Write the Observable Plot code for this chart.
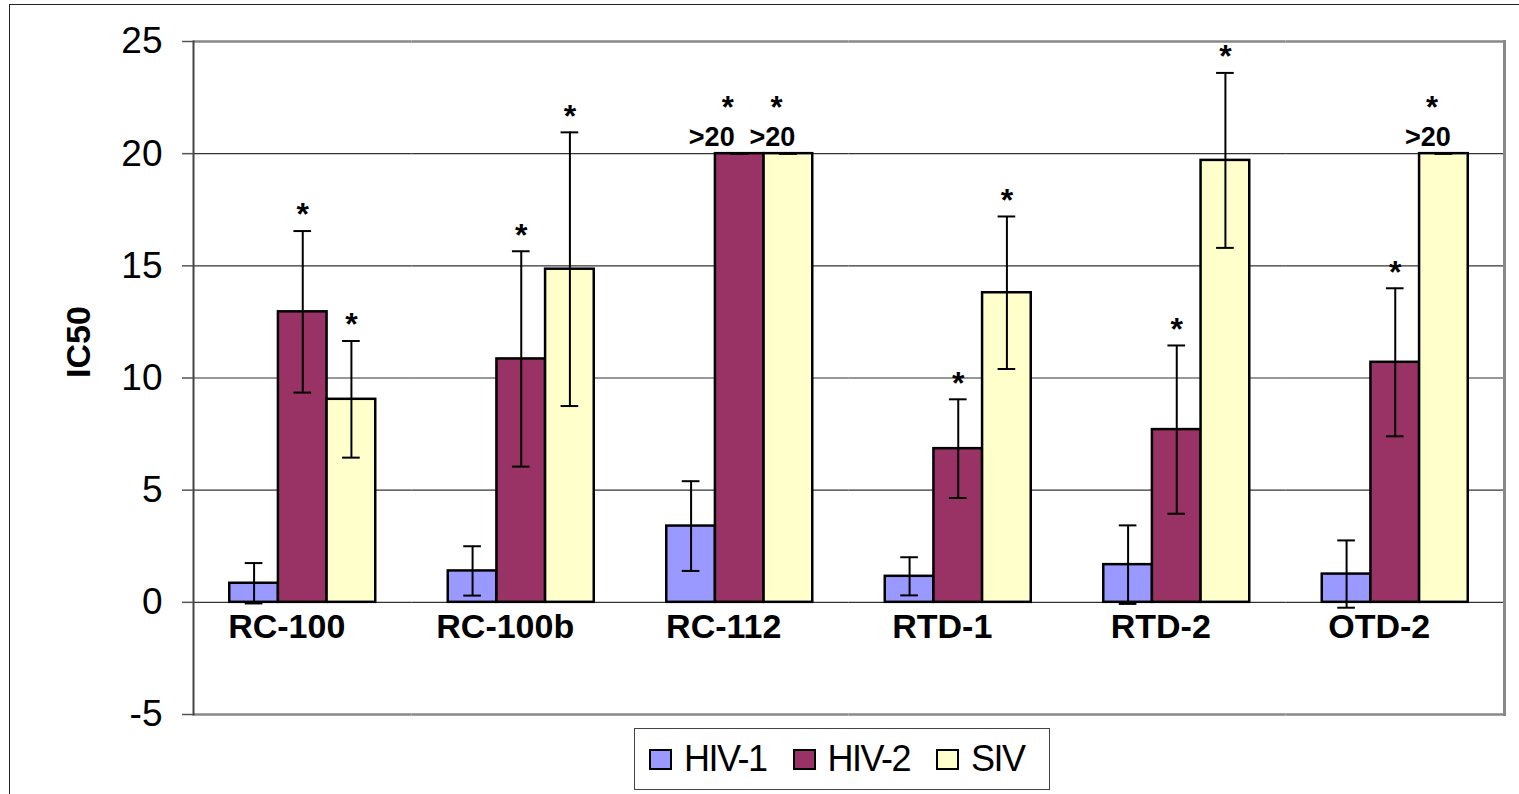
<!DOCTYPE html>
<html>
<head>
<meta charset="utf-8">
<script src="https://cdn.jsdelivr.net/npm/d3@7"></script>
<script src="https://cdn.jsdelivr.net/npm/@observablehq/plot@0.6"></script>
<style>
  html, body { margin: 0; padding: 0; background: #fff; overflow: hidden; }
  body { font-family: "Liberation Sans", Arial, sans-serif; width: 1519px; height: 794px; position: relative; }
  #outer { position: absolute; left: 9px; top: 4px; width: 1700px; height: 1000px; border-left: 1.5px solid #222; border-top: 1.5px solid #222; pointer-events: none; }
  #chart svg { display: block; }
  #legend { position: absolute; left: 634px; top: 728px; width: 414px; height: 60px; border: 1.5px solid #444; box-sizing: content-box; display: flex; align-items: center; }
  .item { display: flex; align-items: center; font-size: 36px; letter-spacing: -1.5px; color: #000; }
  .sw { width: 19px; height: 17px; border: 2px solid #000; margin-right: 12px; }
</style>
</head>
<body>
<div id="chart"></div>
<div id="legend"></div>
<div id="outer"></div>
<script>
const categories = ["RC-100", "RC-100b", "RC-112", "RTD-1", "RTD-2", "OTD-2"];
const series = ["HIV-1", "HIV-2", "SIV"];
const colors = ["#9999FF", "#993366", "#FFFFCC"];

const hiv1 = [0.85, 1.40, 3.40, 1.16, 1.68, 1.26];
const hiv1Err = [0.90, 1.10, 2.00, 0.85, 1.75, 1.50];
const hiv2 = [12.95, 10.85, 20, 6.85, 7.70, 10.70];
const hiv2Err = [3.60, 4.80, 0, 2.20, 3.75, 3.30];
const siv = [9.05, 14.85, 20, 13.80, 19.70, 20];
const sivErr = [2.60, 6.10, 0, 3.40, 3.90, 0];

const hiv1Star = [false, false, false, false, false, false];
const hiv2Star = [true, true, true, true, true, true];
const sivStar = [true, true, true, true, true, true];
const hiv2Over = [false, false, true, false, false, false];
const sivOver = [false, false, true, false, false, true];

const yTicks = [-5, 0, 5, 10, 15, 20, 25];
const gridValues = [0, 5, 10, 15, 20];
const yLabel = "IC50";
const overText = ">20";

const values = [hiv1, hiv2, siv];
const errs = [hiv1Err, hiv2Err, sivErr];
const stars = [hiv1Star, hiv2Star, sivStar];
const overs = [[false, false, false, false, false, false], hiv2Over, sivOver];

const data = [];
categories.forEach((c, i) => {
  series.forEach((s, j) => {
    const v = values[j][i], e = errs[j][i];
    data.push({category: c, series: s, value: v, lo: v - e, hi: v + e, star: stars[j][i], over: overs[j][i]});
  });
});
const starsNormal = data.filter(d => d.star && !d.over);
const starsOver = data.filter(d => d.star && d.over);
const overHiv2 = data.filter(d => d.over && d.series === "HIV-2");
const overSiv = data.filter(d => d.over && d.series === "SIV");

const font = "Liberation Sans, Arial, sans-serif";

const chart = Plot.plot({
  width: 1519,
  height: 724,
  marginLeft: 193,
  marginRight: 15,
  marginTop: 41,
  marginBottom: 10,
  style: {fontFamily: font, color: "#000", background: "#fff", overflow: "visible"},
  fx: {domain: categories, padding: 0, axis: null, round: false},
  x: {domain: series, paddingInner: 0, paddingOuter: 0.745, axis: null, round: false},
  y: {domain: [-5, 25], axis: null},
  color: {domain: series, range: colors},
  marks: [
    Plot.ruleY(gridValues, {stroke: "#333", strokeWidth: 1.2}),
    Plot.ruleY([25, -5], {stroke: "#888", strokeWidth: 2.5}),
    Plot.frame({anchor: "left", facetAnchor: "left", stroke: "#444", strokeWidth: 2}),
    Plot.frame({anchor: "right", facetAnchor: "right", stroke: "#888", strokeWidth: 3}),
    Plot.axisY({ticks: yTicks, tickSize: 11, tickPadding: 20, fontSize: 37, tickFormat: d => String(d), label: null, stroke: "#555", strokeWidth: 1.5, fill: "#000"}),
    Plot.text([yLabel], {frameAnchor: "left", dx: -114, rotate: -90, fontSize: 34, fontWeight: "bold", fill: "#000", facetAnchor: "left"}),
    Plot.barY(data, {fx: "category", x: "series", y: "value", fill: "series", stroke: "#000", strokeWidth: 2.5}),
    Plot.ruleX(data, {fx: "category", x: "series", y1: "lo", y2: "hi", stroke: "#000", strokeWidth: 2}),
    Plot.tickY(data, {fx: "category", x: "series", y: "lo", stroke: "#000", strokeWidth: 2, insetLeft: 15.5, insetRight: 15.5}),
    Plot.tickY(data, {fx: "category", x: "series", y: "hi", stroke: "#000", strokeWidth: 2, insetLeft: 15.5, insetRight: 15.5}),
    Plot.text(starsNormal, {fx: "category", x: "series", y: "hi", text: () => "*", dy: -16, fontSize: 32, fontWeight: "bold", fill: "#000"}),
    Plot.text(overHiv2, {fx: "category", x: "series", y: "value", text: () => overText, dx: -28, dy: -16, fontSize: 27, fontWeight: "bold", fill: "#000"}),
    Plot.text(overSiv, {fx: "category", x: "series", y: "value", text: () => overText, dx: -16, dy: -16, fontSize: 27, fontWeight: "bold", fill: "#000"}),
    Plot.text(starsOver, {fx: "category", x: "series", y: "value", text: () => "*", dx: -12, dy: -46, fontSize: 31, fontWeight: "bold", fill: "#000"}),
    Plot.text(categories, {fx: d => d, y: () => 0, text: d => d, dy: 25, dx: -16, fontSize: 34, fontWeight: "bold", fill: "#000"})
  ]
});
document.getElementById("chart").appendChild(chart);

const legend = document.getElementById("legend");
series.forEach((s, j) => {
  const item = document.createElement("div");
  item.className = "item";
  item.style.marginLeft = j === 0 ? "14px" : "26px";
  const sw = document.createElement("div");
  sw.className = "sw";
  sw.style.background = colors[j];
  const t = document.createElement("span");
  t.textContent = s;
  item.appendChild(sw);
  item.appendChild(t);
  legend.appendChild(item);
});
</script>
</body>
</html>
